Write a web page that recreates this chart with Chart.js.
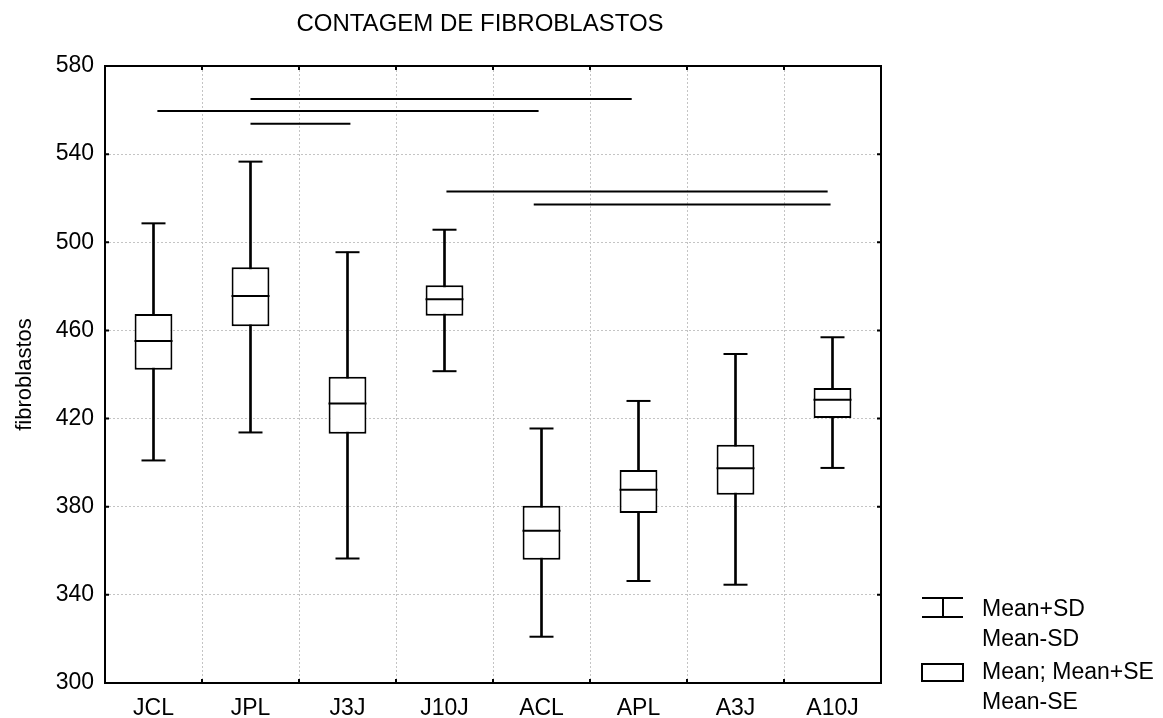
<!DOCTYPE html>
<html>
<head>
<meta charset="utf-8">
<title>Contagem de fibroblastos</title>
<script src="https://cdn.jsdelivr.net/npm/chart.js@4.4.1/dist/chart.umd.min.js"></script>
<style>
    html, body { margin: 0; padding: 0; background: #fff; }
    #wrap { position: relative; width: 1163px; height: 718px; font-family: "Liberation Sans", Arial, sans-serif; color: #000; }
    #chart { position: absolute; left: 0; top: 0; }
    .txt { position: absolute; font-size: 23px; line-height: 30px; white-space: nowrap; }
    #title { left: 0; width: 960px; top: 11px; text-align: center; font-size: 24px; line-height: 24px; }
    #icons { position: absolute; left: 0; top: 0; }
</style>
</head>
<body>
<div id="wrap">
    <canvas id="chart" width="1163" height="718"></canvas>
    <div id="title" class="txt">CONTAGEM DE FIBROBLASTOS</div>
    <svg id="icons" width="1163" height="718">
        <g stroke="#000" stroke-width="2" fill="none">
            <line x1="922" y1="598" x2="963" y2="598"/>
            <line x1="943" y1="598" x2="943" y2="617"/>
            <line x1="922" y1="617" x2="963" y2="617"/>
            <rect x="922" y="664" width="41" height="17" fill="#fff"/>
        </g>
    </svg>
    <div class="txt" style="left:982px; top:593px;">Mean+SD<br>Mean-SD</div>
    <div class="txt" style="left:982px; top:656px;">Mean; Mean+SE<br>Mean-SE</div>
</div>
<script>
// grupos
const categories = ['JCL', 'JPL', 'J3J', 'J10J', 'ACL', 'APL', 'A3J', 'A10J'];
const meanValues = [455.2, 475.6, 426.8, 474.1, 369.1, 387.7, 397.5, 428.5];
const sePlus = [467.5, 488.7, 439.0, 480.5, 380.4, 396.7, 408.1, 433.9];
const seMinus = [442.2, 461.9, 413.1, 466.7, 355.9, 377.1, 385.4, 420.3];
const sdPlus = [508.6, 536.6, 495.5, 505.7, 415.5, 428.0, 449.3, 456.9];
const sdMinus = [401.0, 413.7, 356.5, 441.5, 321.0, 346.3, 344.6, 397.6];
const yTicks = [300, 340, 380, 420, 460, 500, 540, 580];

// barras de significancia (posicao em indice de grupo, nivel em fibroblastos)
const sigFrom = [1.0, 0.04, 1.0, 3.02, 3.92];
const sigTo = [4.93, 3.97, 2.03, 6.95, 6.98];
const sigLevel = [565.0, 559.6, 553.8, 523.0, 517.2];

const FONT = '"Liberation Sans", Arial, sans-serif';
const GRID = '#c4c4c4';

// moldura e marcas internas
const framePlugin = {
    id: 'frame',
    afterDatasetsDraw(chart) {
        const { ctx, chartArea: a, scales } = chart;
        ctx.save();
        ctx.strokeStyle = '#000';
        ctx.lineWidth = 2;
        ctx.strokeRect(a.left, a.top, a.right - a.left, a.bottom - a.top);
        ctx.beginPath();
        yTicks.forEach(v => {
            const y = scales.y.getPixelForValue(v);
            ctx.moveTo(a.left, y); ctx.lineTo(a.left + 4, y);
            ctx.moveTo(a.right, y); ctx.lineTo(a.right - 4, y);
        });
        for (let i = 0; i <= categories.length; i++) {
            const x = scales.x2.getPixelForValue(i - 0.5);
            ctx.moveTo(x, a.top); ctx.lineTo(x, a.top + 4);
            ctx.moveTo(x, a.bottom); ctx.lineTo(x, a.bottom - 4);
        }
        ctx.stroke();
        ctx.restore();
    }
};

const pointSet = (values, radius) => ({
    type: 'line',
    data: values,
    showLine: false,
    pointStyle: 'line',
    pointRadius: radius,
    pointHoverRadius: radius,
    pointBorderWidth: 2,
    borderColor: '#000',
    pointBorderColor: '#000',
    order: 1
});

const sigSets = sigLevel.map((lvl, i) => ({
    type: 'line',
    xAxisID: 'x2',
    data: [{ x: sigFrom[i], y: lvl }, { x: sigTo[i], y: lvl }],
    borderColor: '#000',
    borderWidth: 2,
    pointRadius: 0,
    order: 1
}));

new Chart(document.getElementById('chart'), {
    type: 'bar',
    data: {
        labels: categories,
        datasets: [
            {
                // Mean-SD .. Mean+SD
                data: categories.map((_, i) => [sdMinus[i], sdPlus[i]]),
                backgroundColor: '#000',
                borderWidth: 0,
                barThickness: 2,
                grouped: false,
                order: 3
            },
            {
                // Mean-SE .. Mean+SE
                data: categories.map((_, i) => [seMinus[i], sePlus[i]]),
                backgroundColor: '#fff',
                borderColor: '#000',
                borderWidth: 2,
                borderSkipped: false,
                barPercentage: 0.39,
                categoryPercentage: 1,
                grouped: false,
                order: 2
            },
            pointSet(sdPlus, 12),
            pointSet(sdMinus, 12),
            pointSet(meanValues, 19),
            ...sigSets
        ]
    },
    options: {
        responsive: false,
        animation: false,
        events: [],
        layout: { padding: { top: 66, right: 282, bottom: 0, left: 0 } },
        plugins: { legend: { display: false }, tooltip: { enabled: false }, title: { display: false } },
        scales: {
            x: {
                type: 'category',
                offset: true,
                grid: { offset: true, color: GRID, lineWidth: 1, drawTicks: false },
                border: { display: false, dash: [2, 2] },
                ticks: { color: '#000', font: { family: FONT, size: 23 }, padding: 12 },
                afterFit: s => { s.height = 35; }
            },
            x2: { type: 'linear', min: -0.5, max: 7.5, offset: false, grid: { offset: false }, display: false },
            y: {
                min: 300,
                max: 580,
                grid: { color: GRID, lineWidth: 1, drawTicks: false },
                border: { display: false, dash: [2, 2] },
                ticks: { stepSize: 40, color: '#000', font: { family: FONT, size: 23 }, padding: 11 },
                title: { display: true, text: 'fibroblastos', color: '#000', font: { family: FONT, size: 22 }, padding: { top: 12, bottom: 0 } },
                afterFit: s => { s.width = 105; }
            }
        }
    },
    plugins: [framePlugin]
});
</script>
</body>
</html>
